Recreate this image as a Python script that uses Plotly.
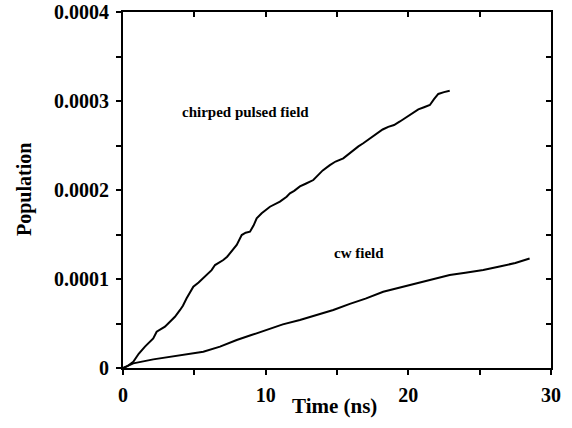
import plotly.graph_objects as go

# Chirped pulsed field population (time in ns, population)
chirp_t = [0, 0.3, 0.72, 1.1, 1.54, 1.9, 2.12, 2.36, 2.7, 2.94, 3.29, 3.64, 4.0, 4.2, 4.46,
           4.93, 5.3, 5.63, 6.0, 6.21, 6.45, 7.03, 7.3, 7.62, 7.97, 8.32, 8.6, 8.9, 9.15,
           9.37, 9.72, 10.3, 11.0, 11.47, 11.7, 12.0, 12.4, 12.8, 13.34, 13.57, 14.0, 14.5,
           14.9, 15.44, 15.8, 16.14, 16.5, 16.84, 17.3, 17.78, 18.2, 18.59, 19.0, 19.41,
           19.8, 20.11, 20.4, 20.7, 21.1, 21.51, 21.8, 22.1, 22.5, 22.9]
chirp_p = [0, 0.02, 0.07, 0.16, 0.24, 0.30, 0.333, 0.408, 0.44, 0.464, 0.52, 0.576, 0.652,
           0.70, 0.783, 0.913, 0.96, 1.007, 1.06, 1.10, 1.157, 1.213, 1.25, 1.307, 1.382,
           1.494, 1.52, 1.532, 1.60, 1.682, 1.738, 1.812, 1.869, 1.925, 1.963, 1.99, 2.04,
           2.07, 2.112, 2.15, 2.22, 2.28, 2.32, 2.356, 2.40, 2.45, 2.49, 2.525, 2.58, 2.636,
           2.68, 2.71, 2.73, 2.77, 2.81, 2.843, 2.87, 2.906, 2.93, 2.955, 3.02, 3.079, 3.10,
           3.116]
chirp_p = [v * 1e-4 for v in chirp_p]

# cw field population
cw_t = [0, 0.72, 2.12, 3.29, 4.46, 5.63, 6.8, 7.97, 9.0, 10.07, 11.2, 12.4, 13.5, 14.74,
        15.9, 17.0, 18.24, 19.4, 20.58, 21.7, 22.9, 24.0, 25.25, 26.4, 27.5, 28.5]
cw_p = [0, 0.052, 0.097, 0.127, 0.157, 0.183, 0.24, 0.315, 0.37, 0.427, 0.49, 0.54, 0.59,
        0.652, 0.72, 0.78, 0.857, 0.905, 0.952, 0.995, 1.045, 1.07, 1.10, 1.14, 1.18, 1.23]
cw_p = [v * 1e-4 for v in cw_p]

x_ticks = [0, 10, 20, 30]
x_ticklabels = ["0", "10", "20", "30"]
y_ticks = [0, 0.0001, 0.0002, 0.0003, 0.0004]
y_ticklabels = ["0", "0.0001", "0.0002", "0.0003", "0.0004"]

FONT = "Liberation Serif"

fig = go.Figure()
fig.add_trace(go.Scatter(x=chirp_t, y=chirp_p, mode="lines",
                         line=dict(color="black", width=2), showlegend=False))
fig.add_trace(go.Scatter(x=cw_t, y=cw_p, mode="lines",
                         line=dict(color="black", width=2), showlegend=False))
# invisible trace to activate mirror axes
fig.add_trace(go.Scatter(x=[0], y=[0], xaxis="x2", yaxis="y2", mode="markers",
                         marker=dict(opacity=0), showlegend=False, hoverinfo="skip"))

tick_common = dict(tickwidth=1.5, tickcolor="black", ticklen=5)

fig.update_layout(
    width=572, height=428,
    margin=dict(l=123, r=21, t=12, b=60),
    plot_bgcolor="white", paper_bgcolor="white",
    font=dict(family=FONT, color="black"),
    xaxis=dict(range=[0, 30], tickvals=x_ticks, ticktext=x_ticklabels, automargin=False,
               ticks="outside", ticklabelstandoff=3, **tick_common,
               minor=dict(ticks="outside", dtick=5, tick0=0, **tick_common),
               showline=True, linecolor="black", linewidth=2, mirror=True,
               showgrid=False, zeroline=False,
               tickfont=dict(family=FONT, size=20, weight="bold")),
    yaxis=dict(range=[0, 0.0004], tickvals=y_ticks, ticktext=y_ticklabels, automargin=False,
               ticks="outside", ticklabelstandoff=3, **tick_common,
               minor=dict(ticks="outside", dtick=0.00005, tick0=0, **tick_common),
               showline=True, linecolor="black", linewidth=2, mirror=True,
               showgrid=False, zeroline=False,
               tickfont=dict(family=FONT, size=20, weight="bold")),
    xaxis2=dict(range=[0, 30], overlaying="x", side="top", anchor="y", automargin=False,
                tickvals=x_ticks, ticks="inside", **tick_common,
                minor=dict(ticks="inside", dtick=5, tick0=0, **tick_common),
                showticklabels=False, showgrid=False, zeroline=False, showline=False),
    yaxis2=dict(range=[0, 0.0004], overlaying="y", side="right", anchor="x", automargin=False,
                tickvals=y_ticks, ticks="inside", **tick_common,
                minor=dict(ticks="inside", dtick=0.00005, tick0=0, **tick_common),
                showticklabels=False, showgrid=False, zeroline=False, showline=False),
    annotations=[
        dict(x=0.493, y=-0.1067, xref="paper", yref="paper", text="Time (ns)",
             showarrow=False, xanchor="center", yanchor="middle",
             font=dict(family=FONT, size=21, weight="bold")),
        dict(x=-0.2313, y=0.5, xref="paper", yref="paper", text="Population", textangle=-90,
             showarrow=False, xanchor="center", yanchor="middle",
             font=dict(family=FONT, size=20, weight="bold")),
        dict(x=8.62, y=0.0002876, xref="x", yref="y", text="chirped pulsed field",
             showarrow=False, font=dict(family=FONT, size=15, weight="bold")),
        dict(x=16.57, y=0.0001292, xref="x", yref="y", text="cw field",
             showarrow=False, font=dict(family=FONT, size=15, weight="bold")),
    ],
)

fig.write_html("out.html")
